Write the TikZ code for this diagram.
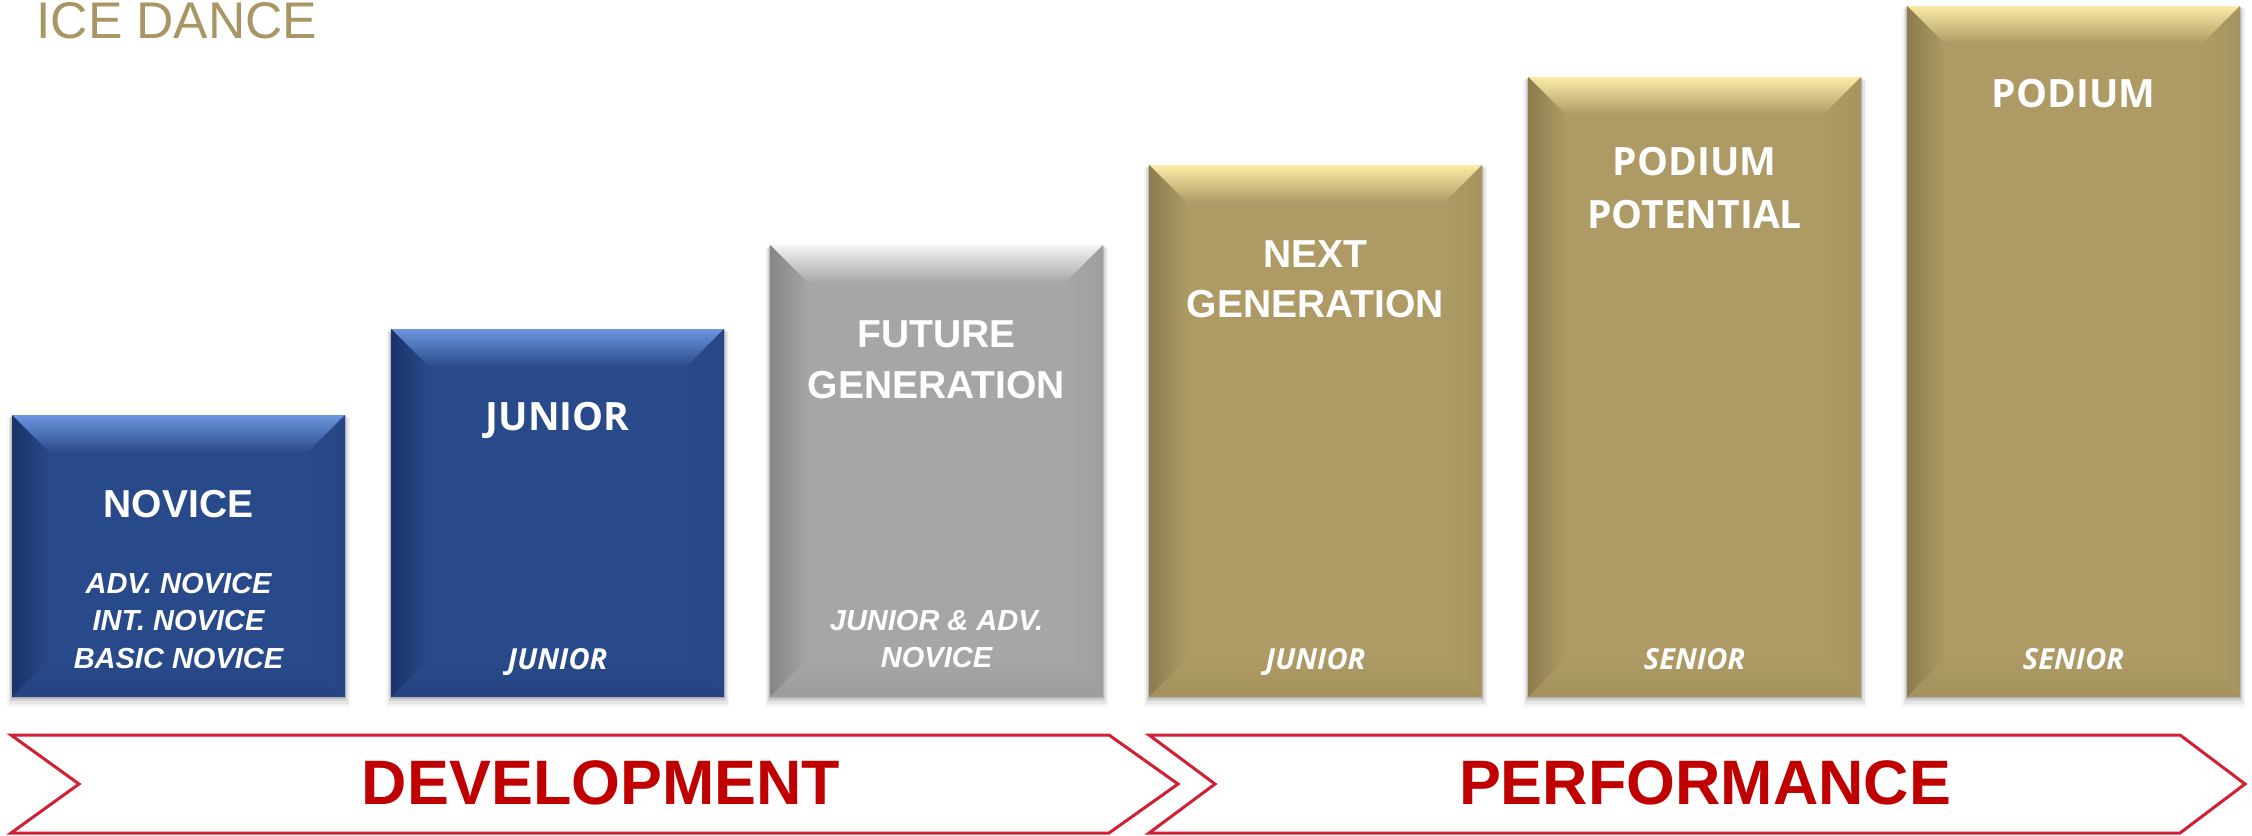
\documentclass[tikz,border=0pt]{standalone}
\usepackage{fontspec}
\setmainfont{Liberation Sans}
\newfontfamily\osans{Open Sans}
\definecolor{goldbase}{HTML}{AD9A64}
\definecolor{goldlt}{HTML}{FBEBA6}
\definecolor{golddk}{HTML}{8C7C4E}
\definecolor{bluebase}{HTML}{294A8A}
\definecolor{bluelt}{HTML}{6D96DF}
\definecolor{bluedk}{HTML}{1A3369}
\definecolor{graybase}{HTML}{A6A6A6}
\definecolor{graylt}{HTML}{F4F4F4}
\definecolor{graydk}{HTML}{858585}
\definecolor{chev}{HTML}{D21F33}
\definecolor{chevtxt}{HTML}{C00000}
\definecolor{titlecol}{HTML}{A89664}
\tikzset{
  head/.style={anchor=base, inner sep=0pt, text=white, font=\fontsize{19.5}{23}\selectfont\bfseries},
  headO/.style={anchor=base, inner sep=0pt, text=white, font=\osans\fontsize{19.5}{23}\selectfont\bfseries},
  sub/.style={anchor=base, inner sep=0pt, text=white, font=\fontsize{14.5}{18}\selectfont\bfseries\itshape},
  subO/.style={anchor=base, inner sep=0pt, text=white, font=\osans\fontsize{14.5}{18}\selectfont\bfseries\itshape},
  chevron/.style={draw=chev, line width=1.5pt, fill=white, line join=miter},
  phase/.style={anchor=base, inner sep=0pt, text=chevtxt, font=\fontsize{31.4}{36}\selectfont\bfseries},
  tier/.style={inner sep=0pt, outer sep=0pt, draw=none},
}
% #1 name, #2 x1, #3 y1, #4 x2, #5 y2, #6 base, #7 light, #8 dark
\newcommand\tierbox[8]{%
  \foreach \s/\op in {10/0.04,7/0.06,4/0.08,2/0.1}{
    \fill[black,opacity=\op] (#2-\s*0.5,#3+\s*0.3) rectangle (#4+\s*0.5,#5+\s);
  }
  \pgfmathsetmacro\bw{(#4-#2)*0.5}
  \pgfmathsetmacro\bh{(#5-#3)*0.5}
  \node[tier, fill=#6, minimum width=\bw pt, minimum height=\bh pt] (#1) at ({(#2+#4)/2},{(#3+#5)/2}) {};
  \shade[top color=#7, bottom color=#6] (#2,#3) -- (#4,#3) -- (#4-38,#3+38) -- (#2+38,#3+38) -- cycle;
  \shade[left color=#8, right color=#6] (#2,#3) -- (#2+38,#3+38) -- (#2+38,#5-38) -- (#2,#5) -- cycle;
  \shade[left color=#6, right color=#6!80!#8] (#4,#3) -- (#4,#5) -- (#4-38,#5-38) -- (#4-38,#3+38) -- cycle;
  \shade[top color=#6, bottom color=#6!70!#8] (#2,#5) -- (#4,#5) -- (#4-38,#5-38) -- (#2+38,#5-38) -- cycle;
}
\begin{document}
\begin{tikzpicture}[x=0.5pt,y=-0.5pt]
\useasboundingbox (0,0) rectangle (2252,835);
\fill[white] (0,0) rectangle (2252,835);

\node[anchor=base west, inner sep=0pt, text=titlecol, font=\fontsize{25.8}{30}\selectfont] (title) at (36,39) {ICE DANCE};

\tierbox{novice}{12}{415}{345}{697}{bluebase}{bluelt}{bluedk}
\tierbox{junior}{391}{329}{724}{697}{bluebase}{bluelt}{bluedk}
\tierbox{future}{770}{245}{1103}{697}{graybase}{graylt}{graydk}
\tierbox{nextgen}{1149}{165}{1482}{697}{goldbase}{goldlt}{golddk}
\tierbox{podpot}{1528}{77}{1861}{697}{goldbase}{goldlt}{golddk}
\tierbox{podium}{1907}{6}{2240}{697}{goldbase}{goldlt}{golddk}

% novice
\node[head] (t1) at (178.5,517) {NOVICE};
\node[sub] (s1a) at (178.5,593) {ADV. NOVICE};
\node[sub] (s1b) at (178.5,630) {INT. NOVICE};
\node[sub] (s1c) at (178.5,668) {BASIC NOVICE};
% junior
\node[headO] (t2) at (557.5,430) {JUNIOR};
\node[subO] (s2) at (557.5,669) {JUNIOR};
% future
\node[head] (t3a) at (936.5,347) {FUTURE};
\node[head] (t3b) at (936.5,398) {GENERATION};
\node[sub] (s3a) at (936.5,630) {JUNIOR \& ADV.};
\node[sub] (s3b) at (936.5,667) {NOVICE};
% next generation
\node[head] (t4a) at (1315.5,267) {NEXT};
\node[head] (t4b) at (1315.5,317) {GENERATION};
\node[subO] (s4) at (1315.5,669) {JUNIOR};
% podium potential
\node[headO] (t5a) at (1694.5,175) {PODIUM};
\node[headO] (t5b) at (1694.5,228) {POTENTIAL};
\node[subO] (s5) at (1694.5,669) {SENIOR};
% podium
\node[headO] (t6) at (2073.5,107) {PODIUM};
\node[subO] (s6) at (2073.5,669) {SENIOR};

% chevrons
\draw[chevron] (11,735) -- (1109,735) -- (1178,784) -- (1109,833) -- (11,833) -- (79,784) -- cycle;
\draw[chevron] (1149,735) -- (2180,735) -- (2245,784) -- (2180,833) -- (1149,833) -- (1215,784) -- cycle;
\node[phase] (dev) at (601,804) {DEVELOPMENT};
\node[phase] (perf) at (1705,804) {PERFORMANCE};
\end{tikzpicture}
\end{document}
